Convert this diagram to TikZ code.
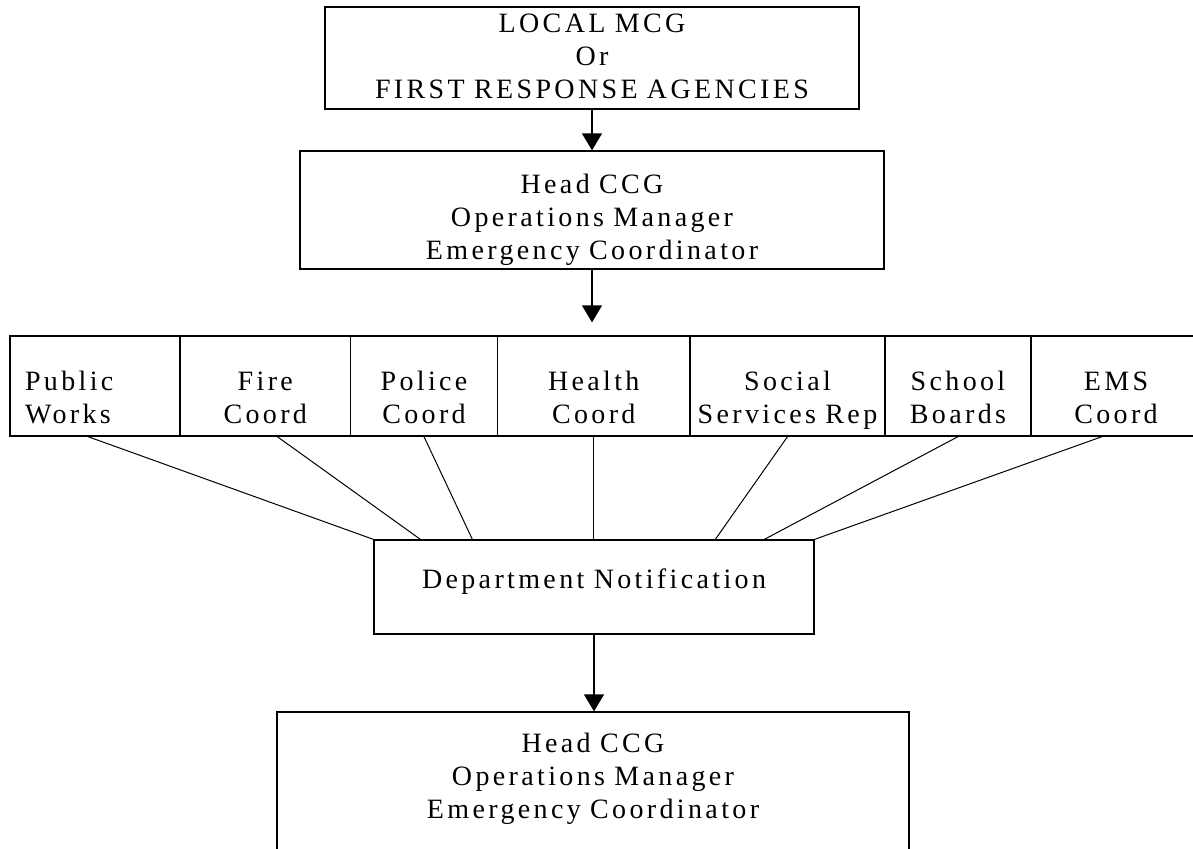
\documentclass[tikz,border=0pt]{standalone}
\usepackage{fontspec}
\setmainfont{Liberation Serif}[LetterSpace=12]
\usetikzlibrary{arrows.meta}
\begin{document}
\begin{tikzpicture}[x=1pt,y=-1pt,
  font=\fontsize{28}{33}\selectfont,
  box/.style={draw, line width=1.3pt, inner sep=0pt, align=center},
  cell/.style={box, minimum height=100pt, text height=20pt, text depth=12pt},
  arr/.style={line width=1.3pt, -{Triangle[width=20pt,length=17pt]}},
  link/.style={line width=1pt}]
\clip (0,0) rectangle (1193,848);
\fill[white] (0,0) rectangle (1193,848);

\node[box, minimum width=534pt, minimum height=102pt, text width=520pt, text height=20pt, text depth=70pt] (lmcg) at (592,58)
  {LOCAL MCG\\Or\\FIRST RESPONSE AGENCIES};
\node[box, minimum width=584pt, minimum height=118pt, text width=560pt, text height=20pt, text depth=54pt] (hccg1) at (592,210)
  {Head CCG\\Operations Manager\\Emergency Coordinator};

\node[cell, minimum width=170pt, align=left, text width=140pt] (pw) at (95,386) {Public\\Works};
\node[cell, minimum width=170.6pt, text width=150pt] (fire) at (265.3,386) {Fire\\Coord};
\node[cell, minimum width=147pt, text width=140pt] (police) at (424,386) {Police\\Coord};
\node[cell, minimum width=192.5pt, text width=180pt] (health) at (593.75,386) {Health\\Coord};
\node[cell, minimum width=195pt, text width=195pt] (social) at (787.5,386) {Social\\Services Rep};
\node[cell, minimum width=146pt, text width=140pt] (school) at (958,386) {School\\Boards};
\node[cell, minimum width=170pt, text width=160pt] (ems) at (1116,386) {EMS\\Coord};

\node[box, minimum width=440pt, minimum height=94pt, text width=420pt, text height=20pt, text depth=18pt] (dept) at (594,587)
  {Department Notification};
\node[box, minimum width=632pt, minimum height=168pt, text width=600pt, text height=20pt, text depth=108pt] (hccg2) at (593,796)
  {Head CCG\\Operations Manager\\Emergency Coordinator};

\draw[arr] (lmcg) -- (hccg1);
\draw[arr, shorten >=13pt] (hccg1.south) -- (hccg1.south |- health.north);
\draw[arr] (dept.south) -- (dept.south |- hccg2.north);

\draw[link] ([xshift=-7pt]pw.south) -- (dept.north west);
\draw[link] ([xshift=12pt]fire.south) -- ([xshift=47pt]dept.north west);
\draw[link] (police.south) -- ([xshift=99pt]dept.north west);
\draw[link] (health.south) -- (health.south |- dept.north);
\draw[link] (social.south) -- ([xshift=342pt]dept.north west);
\draw[link] (school.south) -- ([xshift=391pt]dept.north west);
\draw[link] ([xshift=-14pt]ems.south) -- (dept.north east);
\end{tikzpicture}
\end{document}
